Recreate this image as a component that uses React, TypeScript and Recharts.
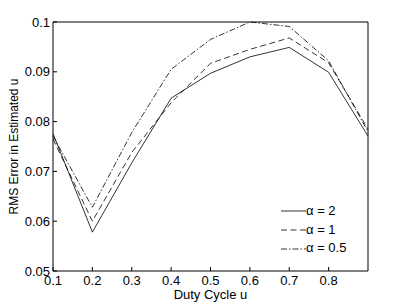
import { LineChart, Line, XAxis, YAxis, Legend } from "recharts";

const dutyCycle = [0.1, 0.2, 0.3, 0.4, 0.5, 0.6, 0.7, 0.8, 0.9];
const alpha2 = [0.0776, 0.0578, 0.0717, 0.0847, 0.0897, 0.093, 0.0949, 0.0899, 0.0771];
const alpha1 = [0.0765, 0.06, 0.0738, 0.0838, 0.0917, 0.0945, 0.0968, 0.0918, 0.0785];
const alpha05 = [0.0771, 0.0628, 0.0778, 0.0905, 0.0965, 0.1, 0.0991, 0.0922, 0.078];

const xTicks = [0.1, 0.2, 0.3, 0.4, 0.5, 0.6, 0.7, 0.8];
const yTicks = [0.05, 0.06, 0.07, 0.08, 0.09, 0.1];

const seriesInfo = [
  { key: "a2", name: "α = 2", dash: undefined },
  { key: "a1", name: "α = 1", dash: "6 3.5" },
  { key: "a05", name: "α = 0.5", dash: "6 2 1.5 2" },
];

const FONT = "'Liberation Sans', Arial, Helvetica, sans-serif";

const data = dutyCycle.map((u, i) => ({
  u,
  a2: alpha2[i],
  a1: alpha1[i],
  a05: alpha05[i],
}));

function LegendBox() {
  return (
    <div style={{ fontFamily: FONT, fontSize: 13, color: "#000", lineHeight: "18.7px" }}>
      {seriesInfo.map((s) => (
        <div key={s.key} style={{ display: "flex", alignItems: "center", height: 18.7 }}>
          <svg width={25} height={10} style={{ display: "block" }}>
            <line x1={0} y1={5} x2={25} y2={5} stroke="#000" strokeWidth={0.8} strokeDasharray={s.dash} />
          </svg>
          <span>{s.name}</span>
        </div>
      ))}
    </div>
  );
}

export default function App() {
  const tickStyle = { fill: "#000", fontSize: 13, fontFamily: FONT };
  return (
    <div style={{ position: "fixed", left: 0, top: 0, width: 407, height: 305, background: "#fff" }}>
      <LineChart width={407} height={305} data={data} margin={{ top: 0, right: 0, bottom: 0, left: 0 }}>
        <XAxis
          dataKey="u"
          type="number"
          domain={[0.1, 0.9]}
          ticks={xTicks}
          height={34}
          stroke="#000"
          tickSize={-4}
          tickMargin={9}
          tick={tickStyle}
          label={{ value: "Duty Cycle u", position: "insideBottom", offset: 6, fill: "#000", fontSize: 13, fontFamily: FONT }}
        />
        <XAxis
          xAxisId="top"
          orientation="top"
          dataKey="u"
          type="number"
          domain={[0.1, 0.9]}
          ticks={xTicks}
          height={22}
          stroke="#000"
          tickSize={-4}
          tick={false}
        />
        <YAxis
          type="number"
          domain={[0.05, 0.1]}
          ticks={yTicks}
          width={53}
          stroke="#000"
          tickSize={-4}
          tickMargin={7}
          tick={tickStyle}
          label={{ value: "RMS Error in Estimated u", angle: -90, position: "center", dx: -12.5, fill: "#000", fontSize: 12, fontFamily: FONT }}
        />
        <YAxis
          yAxisId="right"
          orientation="right"
          type="number"
          domain={[0.05, 0.1]}
          ticks={yTicks}
          width={39}
          stroke="#000"
          tickSize={-4}
          tick={false}
        />
        {seriesInfo.map((s) => (
          <Line
            key={s.key}
            dataKey={s.key}
            name={s.name}
            stroke="#000"
            strokeWidth={0.8}
            strokeDasharray={s.dash}
            dot={false}
            isAnimationActive={false}
          />
        ))}
        <Legend
          layout="horizontal"
          align="center"
          verticalAlign="middle"
          content={() => <LegendBox />}
          wrapperStyle={{ left: 281, top: 202, width: 90, height: 60 }}
        />
      </LineChart>
    </div>
  );
}
